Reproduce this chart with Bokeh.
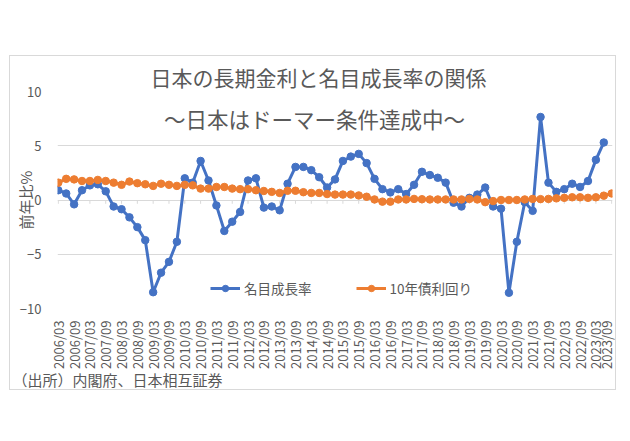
import math
from bokeh.plotting import figure
from bokeh.models import Range1d, FixedTicker, Label, Legend, LegendItem, Title
from bokeh.embed import file_html
from bokeh.resources import INLINE

quarters = [
    "2006/03", "2006/06", "2006/09", "2006/12", "2007/03", "2007/06", "2007/09", "2007/12",
    "2008/03", "2008/06", "2008/09", "2008/12", "2009/03", "2009/06", "2009/09", "2009/12",
    "2010/03", "2010/06", "2010/09", "2010/12", "2011/03", "2011/06", "2011/09", "2011/12",
    "2012/03", "2012/06", "2012/09", "2012/12", "2013/03", "2013/06", "2013/09", "2013/12",
    "2014/03", "2014/06", "2014/09", "2014/12", "2015/03", "2015/06", "2015/09", "2015/12",
    "2016/03", "2016/06", "2016/09", "2016/12", "2017/03", "2017/06", "2017/09", "2017/12",
    "2018/03", "2018/06", "2018/09", "2018/12", "2019/03", "2019/06", "2019/09", "2019/12",
    "2020/03", "2020/06", "2020/09", "2020/12", "2021/03", "2021/06", "2021/09", "2021/12",
    "2022/03", "2022/06", "2022/09", "2022/12", "2023/03", "2023/06", "2023/09",
]

nominal_growth = [
    0.9, 0.6, -0.4, 0.9, 1.35, 1.45, 0.8, -0.6, -0.85, -1.6,
    -2.5, -3.7, -8.5, -6.7, -5.7, -3.85, 2.0, 1.6, 3.6, 1.8,
    -0.5, -2.85, -2.0, -1.1, 1.8, 2.0, -0.7, -0.6, -0.95, 1.5,
    3.05, 3.05, 2.75, 2.1, 1.15, 1.9, 3.6, 4.0, 4.25, 3.4,
    1.95, 1.0, 0.7, 1.0, 0.55, 1.4, 2.6, 2.3, 2.05, 1.6,
    -0.25, -0.6, 0.2, 0.5, 1.15, -0.6, -0.8, -8.55, -3.85, -0.2,
    -1.0, 7.65, 1.6, 0.75, 1.0, 1.5, 1.2, 1.75, 3.7, 5.3,
]

jgb10y = [
    1.6, 1.95, 1.9, 1.75, 1.75, 1.85, 1.75, 1.6, 1.4, 1.7,
    1.55, 1.45, 1.3, 1.5, 1.4, 1.3, 1.4, 1.35, 1.05, 1.05,
    1.2, 1.2, 1.05, 1.0, 1.0, 0.9, 0.83, 0.75, 0.65, 0.85,
    0.85, 0.72, 0.65, 0.65, 0.55, 0.5, 0.5, 0.5, 0.42, 0.3,
    0.05, -0.15, -0.15, 0.05, 0.05, 0.1, 0.07, 0.05, 0.05, 0.05,
    0.05, 0.05, 0.1, 0.05, -0.2, -0.1, 0.0, 0.0, 0.0, 0.05,
    0.1, 0.08, 0.1, 0.15, 0.2, 0.25, 0.25, 0.2, 0.25, 0.4,
    0.6,
]

y_ticks = [-10, -5, 0, 5, 10]
title_line1 = "日本の長期金利と名目成長率の関係"
title_line2 = "〜日本はドーマー条件達成中〜"
y_label = "前年比%"
source_note = "（出所）内閣府、日本相互証券"
series_names = ["名目成長率", "10年債利回り"]

FONT = "Noto Sans CJK JP"
GREY = "#595959"
BLUE = "#4472C4"
ORANGE = "#ED7D31"

x_blue = list(range(len(nominal_growth)))
x_orange = list(range(len(jgb10y)))
label_idx = list(range(0, len(quarters), 2))

p = figure(frame_width=555, frame_height=217, output_backend="svg", toolbar_location=None,
           x_range=Range1d(-0.1, len(quarters) - 1 + 0.1), y_range=Range1d(-10, 10),
           min_border_left=47, min_border_right=3, min_border_top=35, min_border_bottom=81,
           background_fill_color="white", border_fill_color="white")
p.margin = (55, 0, 0, 9)
p.styles = {"border": "1px solid #d9d9d9"}
p.outline_line_color = None

# title (first line) above the plot area
p.title.text = title_line1
p.title.align = "left"
p.title.offset = 93
p.title.standoff = 0
p.title.text_font = FONT
p.title.text_font_size = "21px"
p.title.text_font_style = "normal"
p.title.text_color = GREY

# axes
p.xaxis.ticker = FixedTicker(ticks=label_idx)
p.xaxis.major_label_overrides = {i: quarters[i] for i in label_idx}
p.xaxis.major_label_orientation = math.pi / 2
p.xaxis.axis_line_color = None
p.xaxis.major_tick_line_color = None
p.xaxis.minor_tick_line_color = None
p.xaxis.major_label_text_font = FONT
p.xaxis.major_label_text_font_size = "13px"
p.xaxis.major_label_text_color = GREY
p.xaxis.major_label_standoff = 6

p.yaxis.ticker = FixedTicker(ticks=y_ticks)
p.yaxis.axis_line_color = None
p.yaxis.major_tick_line_color = None
p.yaxis.minor_tick_line_color = None
p.yaxis.major_label_text_font = FONT
p.yaxis.major_label_text_font_size = "13px"
p.yaxis.major_label_text_color = GREY
p.yaxis.major_label_standoff = 10
p.yaxis.axis_label = y_label
p.yaxis.axis_label_text_font = FONT
p.yaxis.axis_label_text_font_size = "15px"
p.yaxis.axis_label_text_font_style = "normal"
p.yaxis.axis_label_text_color = GREY
p.yaxis.axis_label_standoff = -19

p.xgrid.grid_line_color = None
p.ygrid.grid_line_color = "#d9d9d9"
p.ygrid.grid_line_width = 1

# tick marks on the zero line
p.segment(x0=label_idx, y0=[0] * len(label_idx), x1=label_idx, y1=[-0.35] * len(label_idx),
          line_color="#d9d9d9", line_width=1)

# series
bl = p.line(x_blue, nominal_growth, line_color=BLUE, line_width=3)
bs = p.scatter(x_blue, nominal_growth, size=7.5, marker="circle", fill_color=BLUE, line_color=BLUE)
ol = p.line(x_orange, jgb10y, line_color=ORANGE, line_width=3)
os_ = p.scatter(x_orange, jgb10y, size=7.5, marker="circle", fill_color=ORANGE, line_color=ORANGE)

legend = Legend(items=[LegendItem(label=series_names[0], renderers=[bl, bs]),
                       LegendItem(label=series_names[1], renderers=[ol, os_])],
                orientation="horizontal", location=(153, 10),
                glyph_width=30, glyph_height=16, label_standoff=4, spacing=44,
                padding=0, margin=0, border_line_color=None, background_fill_alpha=0,
                label_text_font=FONT, label_text_font_size="13.5px", label_text_color=GREY)
p.add_layout(legend, "center")

# second title line inside the plot area
p.add_layout(Label(x=257, y=190, x_units="screen", y_units="screen", text=title_line2,
                   text_font=FONT, text_color=GREY, text_font_size="21.5px",
                   text_align="center", text_baseline="middle"))

# source note below the axis
p.add_layout(Title(text=source_note, align="left", offset=-45, standoff=-10,
                   text_font=FONT, text_font_size="15px", text_font_style="normal",
                   text_color=GREY), "below")

open("out.html", "w").write(file_html(p, INLINE))
